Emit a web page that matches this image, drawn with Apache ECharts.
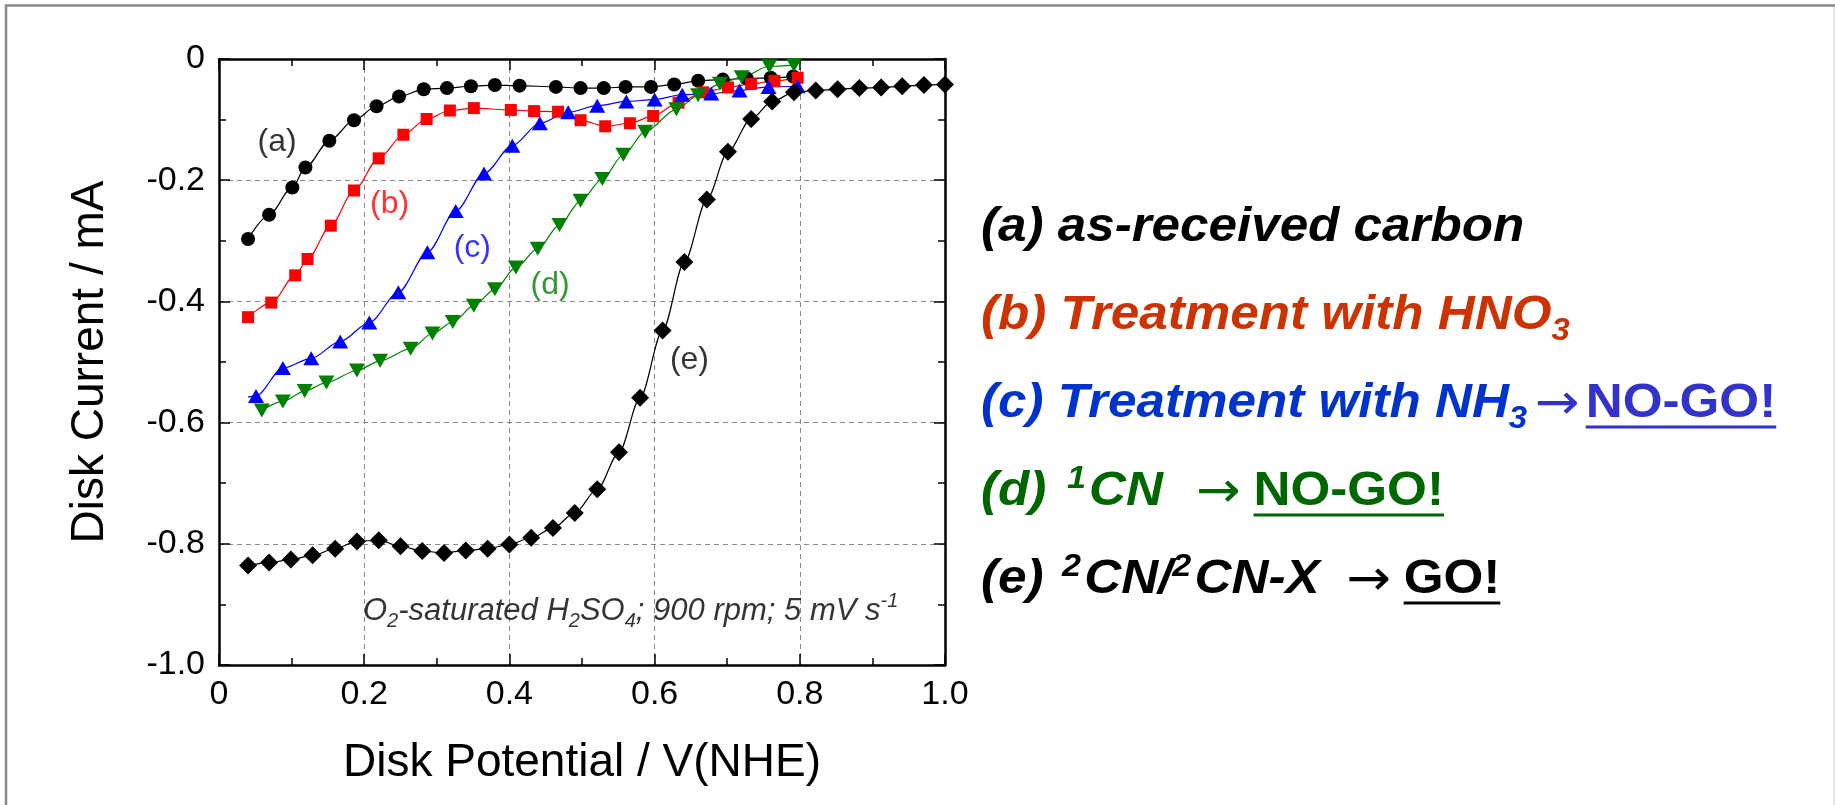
<!DOCTYPE html>
<html>
<head>
<meta charset="utf-8">
<script src="https://cdn.jsdelivr.net/npm/echarts@6/dist/echarts.min.js"></script>
<style>
  html, body { margin: 0; padding: 0; background: #ffffff; }
  #chart { width: 1835px; height: 805px; }
</style>
</head>
<body>
<div id="chart"></div>
<script>
// ---- Rotating-disk ORR polarisation curves: disk current vs disk potential ----

// Axis tick labels
const xTickLabels = ['0', '0.2', '0.4', '0.6', '0.8', '1.0'];
const yTickLabels = ['-1.0', '-0.8', '-0.6', '-0.4', '-0.2', '0'];

// (a) as-received carbon
const potentialA = [0.040, 0.069, 0.101, 0.119, 0.152, 0.186, 0.217, 0.248, 0.282, 0.314, 0.347, 0.380, 0.414, 0.464, 0.498, 0.530, 0.560, 0.595, 0.627, 0.660, 0.694, 0.727, 0.760, 0.791];
const currentA   = [-0.297, -0.257, -0.212, -0.179, -0.135, -0.101, -0.078, -0.062, -0.050, -0.048, -0.045, -0.043, -0.044, -0.046, -0.048, -0.048, -0.046, -0.046, -0.042, -0.036, -0.034, -0.032, -0.031, -0.029];

// (b) treatment with HNO3
const potentialB = [0.040, 0.072, 0.105, 0.122, 0.154, 0.186, 0.220, 0.254, 0.286, 0.318, 0.351, 0.402, 0.434, 0.467, 0.498, 0.532, 0.566, 0.598, 0.633, 0.667, 0.701, 0.733, 0.765, 0.797];
const currentB   = [-0.426, -0.402, -0.357, -0.330, -0.275, -0.217, -0.164, -0.125, -0.099, -0.085, -0.081, -0.084, -0.086, -0.087, -0.101, -0.111, -0.106, -0.094, -0.072, -0.055, -0.047, -0.041, -0.036, -0.031];

// (c) treatment with NH3 (the trace begins slightly before its first marker)
const traceStartC = [0.040, -0.558];
const potentialC = [0.051, 0.088, 0.127, 0.167, 0.207, 0.247, 0.287, 0.326, 0.365, 0.404, 0.442, 0.481, 0.521, 0.561, 0.600, 0.638, 0.678, 0.717, 0.757, 0.797];
const currentC   = [-0.556, -0.510, -0.494, -0.466, -0.435, -0.385, -0.319, -0.251, -0.189, -0.143, -0.106, -0.088, -0.077, -0.070, -0.067, -0.059, -0.057, -0.052, -0.046, -0.045];

// (d) 1CN
const potentialD = [0.059, 0.088, 0.118, 0.148, 0.190, 0.222, 0.264, 0.294, 0.322, 0.351, 0.380, 0.409, 0.439, 0.469, 0.498, 0.528, 0.557, 0.587, 0.630, 0.660, 0.690, 0.720, 0.758, 0.792];
const currentD   = [-0.580, -0.565, -0.548, -0.534, -0.514, -0.498, -0.478, -0.453, -0.434, -0.407, -0.380, -0.344, -0.313, -0.274, -0.234, -0.198, -0.158, -0.120, -0.083, -0.060, -0.041, -0.030, -0.012, -0.010];

// (e) 2CN/2CN-X
const potentialE = [0.040, 0.069, 0.099, 0.129, 0.160, 0.190, 0.220, 0.250, 0.280, 0.310, 0.340, 0.370, 0.400, 0.430, 0.460, 0.490, 0.521, 0.551, 0.580, 0.611, 0.641, 0.672, 0.701, 0.733, 0.762, 0.792, 0.822, 0.852, 0.882, 0.912, 0.941, 0.971, 1.000];
const currentE   = [-0.836, -0.831, -0.826, -0.819, -0.808, -0.796, -0.794, -0.804, -0.812, -0.815, -0.811, -0.808, -0.801, -0.790, -0.774, -0.749, -0.710, -0.649, -0.559, -0.448, -0.335, -0.232, -0.153, -0.099, -0.070, -0.055, -0.052, -0.050, -0.048, -0.047, -0.045, -0.043, -0.042];

// Curve tags drawn next to each trace (data coordinates)
const tagText = ['(a)', '(b)', '(c)', '(d)', '(e)'];
const tagPotential = [0.080, 0.235, 0.349, 0.456, 0.648];
const tagCurrent   = [-0.137, -0.240, -0.312, -0.374, -0.497];

// Measurement conditions note (data coordinates of its centre)
const notePotential = 0.567;
const noteCurrent = -0.912;

// Right-hand key text; numbers are extra spacing in px
const keyRows = [
  [['main', '(a) as-received carbon']],
  [['main', '(b) Treatment with HNO'], ['sub', '3']],
  [['main', '(c) Treatment with NH'], ['sub', '3'], ['gap', 7], ['arrow', '\u2192'], ['gap', 6], ['verdict', 'NO-GO!']],
  [['main', '(d) '], ['gap', 6], ['sup', '1'], ['gap', 3], ['main', 'CN'], ['gap', 31], ['arrow', '\u2192'], ['gap', 12], ['verdict', 'NO-GO!']],
  [['main', '(e) '], ['gap', 4], ['sup', '2'], ['gap', 3], ['main', 'CN/'], ['sup', '2'], ['gap', 3], ['main', 'CN-X'], ['gap', 25], ['arrow', '\u2192'], ['gap', 12], ['verdict', 'GO!']]
];

// ---- styling ----
const FONT = '"Liberation Sans", Arial, Helvetica, sans-serif';
const ARROW_FONT = '"DejaVu Sans", "Liberation Sans", sans-serif';
const seriesColors = ['#000000', '#ff0000', '#0000ff', '#008000', '#000000'];
const keyMainColors = ['#000000', '#cc3300', '#0033cc', '#006600', '#000000'];
const keyVerdictColors = ['#000000', '#cc3300', '#3333cc', '#006600', '#000000'];

const gridBox = { left: 219, top: 59, right: 945, bottom: 665 };

function pairs(xs, ys) { return xs.map((x, i) => [x, ys[i]]); }

const chart = echarts.init(document.getElementById('chart'), null, { renderer: 'canvas' });

function axisCommon(position) {
  return {
    position: position,
    axisLine: { show: true, onZero: false, lineStyle: { color: '#000', width: 2.5 } },
    axisTick: { show: true, inside: true, length: 11, lineStyle: { color: '#000', width: 1.5 } },
    minorTick: { show: true, splitNumber: 2, length: 7, lineStyle: { color: '#000', width: 1.5 } },
    minorSplitLine: { show: false }
  };
}

const xAxisMain = Object.assign(axisCommon('bottom'), {
  type: 'value', min: 0, max: 1, interval: 0.2,
  name: 'Disk Potential / V(NHE)', nameLocation: 'middle', nameGap: 75,
  nameTextStyle: { fontFamily: FONT, fontSize: 46, color: '#000' },
  axisLabel: {
    show: true, margin: 13, fontFamily: FONT, fontSize: 34, color: '#000',
    formatter: v => xTickLabels[Math.round(v / 0.2)]
  },
  splitLine: { show: true, lineStyle: { color: '#8a8a8a', width: 1, type: [5, 4] } }
});
const xAxisTop = Object.assign(axisCommon('top'), {
  type: 'value', min: 0, max: 1, interval: 0.2,
  axisLabel: { show: false }, splitLine: { show: false }
});
const yAxisMain = Object.assign(axisCommon('left'), {
  type: 'value', min: -1, max: 0, interval: 0.2,
  name: 'Disk Current / mA', nameLocation: 'middle', nameGap: 106, nameRotate: 90,
  nameTextStyle: { fontFamily: FONT, fontSize: 46, color: '#000' },
  axisLabel: {
    show: true, margin: 14, fontFamily: FONT, fontSize: 34, color: '#000',
    formatter: v => yTickLabels[Math.round((v + 1) / 0.2)]
  },
  splitLine: { show: true, lineStyle: { color: '#8a8a8a', width: 1, type: [5, 4] } }
});
const yAxisRight = Object.assign(axisCommon('right'), {
  type: 'value', min: -1, max: 0, interval: 0.2,
  axisLabel: { show: false }, splitLine: { show: false }
});

function curve(name, data, color, symbol, size, rotate) {
  return {
    name: name, type: 'line', xAxisIndex: 0, yAxisIndex: 0,
    data: data, smooth: 0.3, smoothMonotone: 'x',
    symbol: symbol, symbolSize: size, symbolRotate: rotate || 0, showSymbol: true,
    clip: false, animation: false,
    lineStyle: { color: color, width: 1.2 },
    itemStyle: { color: color, borderWidth: 0 }
  };
}

const dataC = [{ value: traceStartC, symbol: 'none' }].concat(pairs(potentialC, currentC));

const tagSeries = {
  type: 'scatter', xAxisIndex: 0, yAxisIndex: 0, animation: false, silent: true,
  symbolSize: 1, itemStyle: { color: 'rgba(0,0,0,0)' },
  data: tagText.map((t, i) => ({
    name: t, value: [tagPotential[i], tagCurrent[i]],
    label: { color: seriesColors[i] }
  })),
  label: {
    show: true, position: 'inside', formatter: p => p.name,
    fontFamily: FONT, fontSize: 32
  },
  z: 5
};

const noteSeries = {
  type: 'scatter', xAxisIndex: 0, yAxisIndex: 0, animation: false, silent: true,
  symbolSize: 1, itemStyle: { color: 'rgba(0,0,0,0)' },
  data: [[notePotential, noteCurrent]],
  label: {
    show: true, position: 'inside', color: '#000',
    formatter: '{m|O}{s|2}{m|-saturated H}{s|2}{m|SO}{s|4}{m|; 900 rpm; 5 mV s}{p|-1}',
    rich: {
      m: { fontFamily: FONT, fontStyle: 'italic', fontSize: 31, lineHeight: 40, verticalAlign: 'middle', color: '#000' },
      s: { fontFamily: FONT, fontStyle: 'italic', fontSize: 20, lineHeight: 14, verticalAlign: 'bottom', color: '#000' },
      p: { fontFamily: FONT, fontStyle: 'italic', fontSize: 20, lineHeight: 16, verticalAlign: 'top', color: '#000' }
    }
  },
  z: 5
};

// ---- key on the right, laid out with measured text widths ----
const measureCtx = document.createElement('canvas').getContext('2d');
const segStyles = {
  main:    { fontStyle: 'italic', fontWeight: 'bold', fontSize: 48, shift: 0, family: FONT },
  sub:     { fontStyle: 'italic', fontWeight: 'bold', fontSize: 31, shift: 10, family: FONT },
  sup:     { fontStyle: 'italic', fontWeight: 'bold', fontSize: 32, shift: -18, family: FONT },
  arrow:   { fontStyle: 'normal', fontWeight: 'normal', fontSize: 50, shift: 3, family: ARROW_FONT },
  verdict: { fontStyle: 'normal', fontWeight: 'bold', fontSize: 48, shift: 0, family: FONT }
};
function fontString(s) { return s.fontStyle + ' ' + s.fontWeight + ' ' + s.fontSize + 'px ' + s.family; }

const keyLeft = 981;
const keyStretch = 1.066;
const keyBaseline0 = 244;
const keyStep = 88;
const keyGraphics = [];
keyRows.forEach((row, r) => {
  let x = 0;
  const baseline = keyBaseline0 + keyStep * r;
  const children = [];
  row.forEach(([role, content]) => {
    if (role === 'gap') { x += content; return; }
    const st = segStyles[role];
    const font = fontString(st);
    measureCtx.font = font;
    const w = measureCtx.measureText(content).width;
    const color = (role === 'arrow' || role === 'verdict') ? keyVerdictColors[r] : keyMainColors[r];
    const mid = baseline + st.shift - 0.3465 * st.fontSize;
    children.push({
      type: 'text', x: x, y: mid, silent: true,
      style: {
        text: content, font: font, fill: color,
        align: 'left', verticalAlign: 'middle',
        textAlign: 'left', textVerticalAlign: 'middle'
      }
    });
    if (role === 'verdict') {
      children.push({
        type: 'line', silent: true,
        shape: { x1: x, y1: baseline + 7, x2: x + w, y2: baseline + 7 },
        style: { stroke: color, lineWidth: 3 }
      });
    }
    x += w;
  });
  keyGraphics.push({ type: 'group', x: keyLeft, y: 0, scaleX: keyStretch, children: children });
});

// slide frame
const frameGraphics = [
  { type: 'line', silent: true, shape: { x1: 5, y1: 5.5, x2: 1835, y2: 5.5 }, style: { stroke: '#888888', lineWidth: 2.5 } },
  { type: 'line', silent: true, shape: { x1: 6, y1: 5, x2: 6, y2: 805 }, style: { stroke: '#888888', lineWidth: 2.5 } },
  { type: 'line', silent: true, shape: { x1: 1834, y1: 7, x2: 1834, y2: 805 }, style: { stroke: '#dddddd', lineWidth: 1.5 } }
];

chart.setOption({
  backgroundColor: '#ffffff',
  animation: false,
  grid: {
    left: gridBox.left, top: gridBox.top,
    right: 1835 - gridBox.right, bottom: 805 - gridBox.bottom,
    containLabel: false
  },
  xAxis: [xAxisMain, xAxisTop],
  yAxis: [yAxisMain, yAxisRight],
  series: [
    curve('(a)', pairs(potentialA, currentA), seriesColors[0], 'circle', 14),
    curve('(b)', pairs(potentialB, currentB), seriesColors[1], 'rect', 12),
    curve('(c)', dataC, seriesColors[2], 'triangle', [16, 14]),
    curve('(d)', pairs(potentialD, currentD), seriesColors[3], 'triangle', [16, 14], 180),
    curve('(e)', pairs(potentialE, currentE), seriesColors[4], 'diamond', 18),
    tagSeries,
    noteSeries
  ],
  graphic: frameGraphics.concat(keyGraphics)
});
</script>
</body>
</html>
